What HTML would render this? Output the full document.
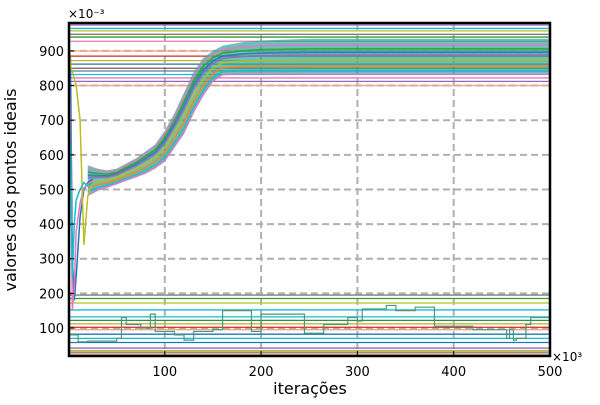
<!DOCTYPE html>
<html><head><meta charset="utf-8"><style>
body{margin:0;background:#fff;}
svg text{font-family:"DejaVu Sans","Liberation Sans",sans-serif;fill:#000;}
</style></head><body>
<svg id="chart" width="600" height="400" xmlns="http://www.w3.org/2000/svg"></svg>
<script>
// ---- data ----
const xTicks=[100,200,300,400,500];
const yTicks=[100,200,300,400,500,600,700,800,900];
const bandX=[20,30,40,50,60,70,80,90,100,110,120,130,140,150,160,180,200,250,300,350,400,450,500];
const bandUpper=[570,560,555,560,575,590,610,630,670,720,780,840,880,900,915,925,930,935,935,935,935,935,935];
const bandLower=[480,495,505,515,525,535,545,560,580,620,660,720,770,810,830,835,835,835,835,835,835,835,835];
const bandMid=[525,528,530,537,550,562,578,595,625,670,720,780,825,855,870,875,877,878,878,878,878,878,878];
const topLevels=[975,965,958,948,940,928,900,885,872,862,850,842,832,822,812,800];
const topColors=["#9467bd","#17becf","#bcbd22","#7f7f7f","#2ca02c","#e377c2","#f4a582","#d62728","#bcbd22","#1f77b4","#8c564b","#4682b4","#17becf","#e377c2","#9467bd","#f4a582"];
const botLevels=[195,185,172,152,132,122,112,102,95,82,70,58,42,35,30,25];
const botColors=["#7f7f7f","#2ca02c","#bcbd22","#17becf","#17becf","#2e8b57","#bcbd22","#d62728","#f4a582","#1f77b4","#17becf","#1f77b4","#9467bd","#bcbd22","#7f7f7f","#d2a679"];
const stepX=[0,10,20,50,55,60,75,85,90,110,120,130,150,160,180,190,200,225,245,255,265,290,300,305,320,330,340,350,360,380,420,455,458,462,465,475,480,500];
const stepY=[80,60,62,70,130,110,100,140,90,80,65,90,95,150,150,90,140,140,85,85,110,130,120,155,155,165,150,150,160,105,95,70,95,65,70,110,130,140];
const transX=[0,2,4,6,8,12,16,20,25];
const trans1=[920,880,300,180,250,420,500,520,530];
const trans2=[900,700,150,220,380,460,505,515,525];
const trans3=[930,860,840,820,800,700,340,480,520];
const trans4=[880,600,250,400,470,500,520,510,520];
// ---- axes ----
const X0=68.5,X1=550,Y0=362.6,K=0.3463;
const sx=v=>X0+(X1-X0)*v/500;
const sy=v=>Y0-v*K;
const svg=document.getElementById('chart');
const NS="http://www.w3.org/2000/svg";
function mk(t,a,p){const e=document.createElementNS(NS,t);for(const k in a)e.setAttribute(k,a[k]);(p||svg).appendChild(e);return e;}
const defs=mk('defs',{});
const cp=mk('clipPath',{id:'cp'},defs);mk('rect',{x:69,y:23,width:481,height:333},cp);
const g=mk('g',{'clip-path':'url(#cp)'});


// grid
xTicks.forEach(t=>{if(t<500){const l=mk('line',{x1:sx(t),x2:sx(t),y1:23,y2:356,stroke:'#b0b0b0','stroke-width':2,'stroke-dasharray':'7,4'},g);}});
yTicks.forEach(t=>{const l=mk('line',{x1:69,x2:550,y1:sy(t),y2:sy(t),stroke:'#b0b0b0','stroke-width':2,'stroke-dasharray':'7,4'},g);});
// horizontal level lines
topLevels.forEach((v,i)=>{const l=mk('line',{x1:69,x2:550,y1:sy(v),y2:sy(v),stroke:topColors[i],'stroke-width':1.3},g);});
botLevels.forEach((v,i)=>{const l=mk('line',{x1:69,x2:550,y1:sy(v),y2:sy(v),stroke:botColors[i],'stroke-width':1.3},g);});
// step line
let d='';stepX.forEach((x,i)=>{d+=(i?'L':'M')+sx(x)+','+sy(stepY[i])+(i<stepX.length-1?'L'+sx(stepX[i+1])+','+sy(stepY[i]):'');});
const st=mk('path',{d:d,fill:'none',stroke:'#4a9a7a','stroke-width':1.2},g);

// band
let bp='';bandX.forEach((x,i)=>{bp+=(i?'L':'M')+sx(x)+','+sy(bandUpper[i]);});
for(let i=bandX.length-1;i>=0;i--)bp+='L'+sx(bandX[i])+','+sy(bandLower[i]);
const band=mk('path',{d:bp+'Z',fill:'#2ca89a','fill-opacity':0.7},g);

const bandCols=['#e377c2','#1f77b4','#bcbd22','#ff7f0e','#9467bd','#17becf','#2ca02c','#e377c2'];
const offs=[40,18,-5,-22,10,-35,28,-45];
bandCols.forEach((c,j)=>{let p='';bandX.forEach((x,i)=>{const w=(bandUpper[i]-bandLower[i])/100;p+=(i?'L':'M')+sx(x)+','+sy(bandMid[i]+offs[j]*w);});
const l=mk('path',{d:p,fill:'none',stroke:c,'stroke-width':1.8,'stroke-opacity':0.8},g);});
// transients
[[trans1,'#1f77b4'],[trans2,'#e377c2'],[trans3,'#bcbd22'],[trans4,'#17becf']].forEach(([arr,c])=>{let p='';transX.forEach((x,i)=>{p+=(i?'L':'M')+sx(x)+','+sy(arr[i]);});
const l=mk('path',{d:p,fill:'none',stroke:c,'stroke-width':1.5},g);});
// frame
const fr=mk('rect',{x:69,y:23,width:481,height:333,fill:'none',stroke:'#000','stroke-width':2.5});

// ticks & labels
xTicks.forEach(t=>{mk('line',{x1:sx(t),x2:sx(t),y1:356,y2:351,stroke:'#000'});const tx=mk('text',{x:sx(t),y:376,'font-size':13,'text-anchor':'middle'});tx.textContent=t;});
yTicks.forEach(t=>{mk('line',{x1:69,x2:74,y1:sy(t),y2:sy(t),stroke:'#000'});const tx=mk('text',{x:64,y:sy(t)+5,'font-size':13,'text-anchor':'end'});tx.textContent=t;});
const e1=mk('text',{x:68,y:18,'font-size':12});e1.textContent='×10⁻³';
const e2=mk('text',{x:552,y:361,'font-size':12});e2.textContent='×10³';
const xl=mk('text',{x:310,y:394,'font-size':16,'text-anchor':'middle'});xl.textContent='iterações';
const yl=mk('text',{x:0,y:0,'font-size':16,'text-anchor':'middle',transform:'translate(16,190) rotate(-90)'});yl.textContent='valores dos pontos ideais';
</script>
</body></html>
